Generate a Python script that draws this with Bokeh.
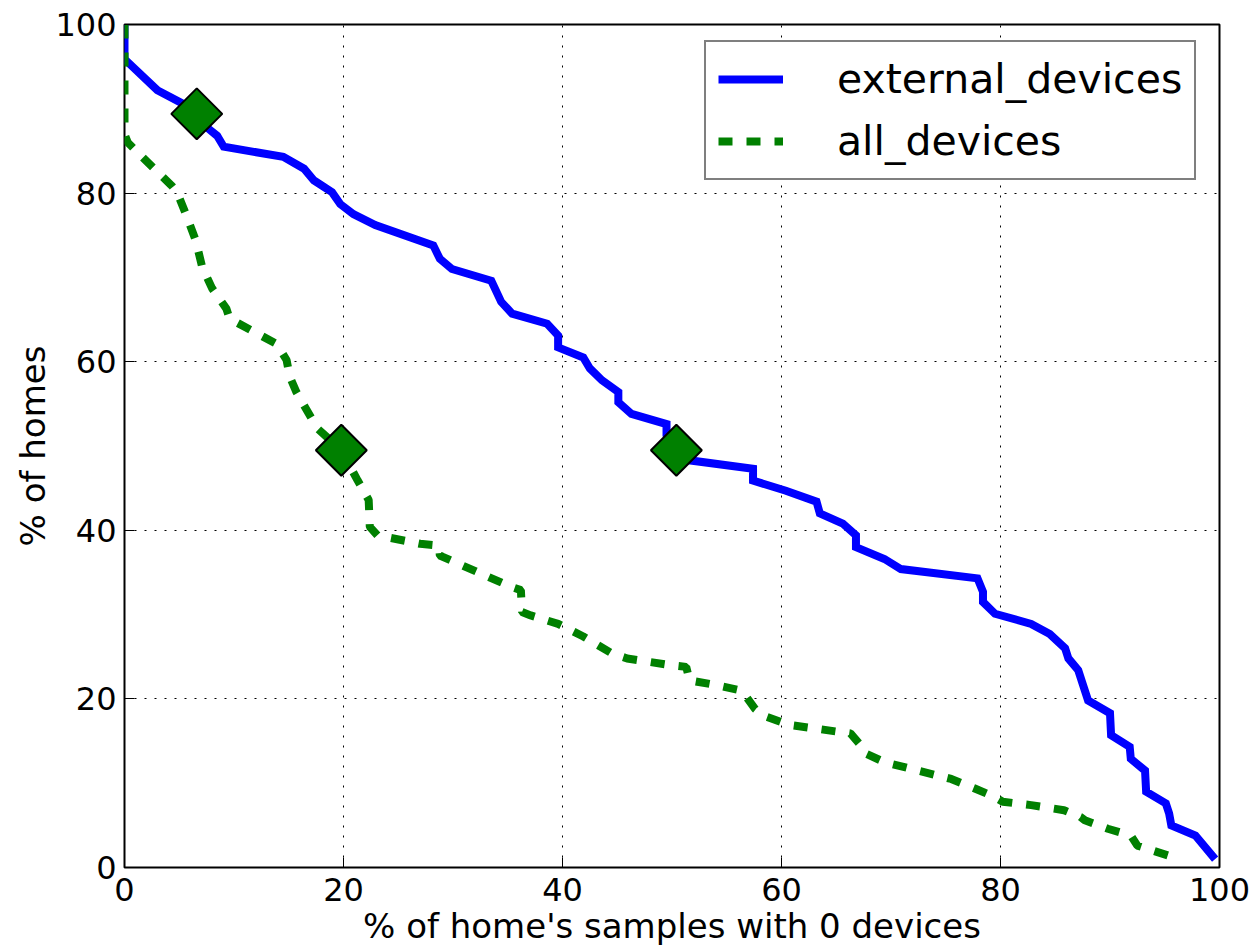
import numpy as np
from bokeh.plotting import figure
from bokeh.models import Range1d, FixedTicker, Legend, LegendItem
from bokeh.embed import file_html
from bokeh.resources import INLINE

# ---- data ----
ext_x = [0, 0, 3.0, 5.2, 6.6, 7.7, 8.46, 9.06, 14.5, 16.4, 17.3, 18.95, 19.7, 20.9, 22.9,
         28.2, 28.8, 29.9, 33.5, 34.4, 35.4, 38.6, 39.6, 39.6, 41.9, 42.5, 43.6, 45.1, 45.1,
         46.3, 49.5, 49.5, 50.4, 51.6, 57.4, 57.4, 60.4, 63.2, 63.5, 65.6, 66.8, 66.8, 69.4,
         70.9, 77.9, 78.4, 78.4, 79.5, 82.8, 84.5, 85.9, 86.2, 87.1, 87.5, 88.0, 90.0, 90.1,
         91.8, 91.9, 93.2, 93.3, 95.1, 95.4, 95.6, 97.8, 99.6]
ext_y = [100, 95.9, 92.2, 90.7, 89.4, 87.6, 86.8, 85.5, 84.3, 82.9, 81.5, 80.1, 78.7, 77.5, 76.2,
         73.8, 72.2, 71.0, 69.6, 67.1, 65.7, 64.5, 63.1, 61.7, 60.5, 59.2, 57.8, 56.4, 55.2,
         53.8, 52.6, 51.3, 49.5, 48.3, 47.3, 45.9, 44.7, 43.4, 42.0, 40.8, 39.4, 38.0, 36.6,
         35.4, 34.3, 32.7, 31.5, 30.1, 28.9, 27.7, 26.0, 24.8, 23.4, 21.8, 19.8, 18.3, 15.7,
         14.3, 12.9, 11.5, 9.0, 7.6, 6.4, 5.0, 3.8, 1.0]

all_x = [0, 0, 0.3, 2.7, 4.3, 4.8, 5.7, 6.5, 7.1, 8.0, 9.3, 9.6, 13.9, 14.8, 15.1, 15.7, 17.6,
         19.8, 21.3, 22.3, 22.4, 23.1, 27.0, 28.7, 28.8, 35.3, 36.2, 36.3, 37.1, 39.6, 41.9,
         44.5, 45.9, 49.9, 51.3, 51.6, 54.2, 56.3, 56.7, 57.6, 58.4, 59.9, 60.8, 66.3, 67.1,
         67.7, 69.4, 75.5, 77.6, 79.4, 80.2, 82.8, 85.8, 87.3, 87.7, 89.8, 91.9, 92.5, 95.6]
all_y = [100, 87.0, 86.0, 82.9, 80.9, 80.1, 77.2, 74.4, 71.2, 68.7, 66.3, 65.1, 62.1, 60.2, 58.2,
         56.4, 52.1, 49.5, 45.9, 43.6, 40.4, 39.4, 38.4, 38.2, 37.0, 33.3, 32.9, 30.3, 29.9,
         28.9, 27.4, 25.4, 24.8, 24.0, 23.8, 22.2, 21.6, 21.0, 20.4, 18.8, 18.0, 17.3, 16.9,
         15.9, 14.7, 13.5, 12.5, 10.5, 9.4, 8.4, 7.8, 7.4, 6.8, 6.0, 5.6, 4.6, 3.8, 2.6, 1.3]

marker_x = [6.6, 19.8, 50.4]
marker_y = [89.4, 49.5, 49.5]

ticks = [0, 20, 40, 60, 80, 100]
series_labels = ["external_devices", "all_devices"]

FONT = "DejaVu Sans"

p = figure(width=1252, height=948, output_backend="svg", toolbar_location=None,
           x_range=Range1d(0, 100), y_range=Range1d(0, 100),
           min_border_left=124, min_border_top=24, min_border_right=33, min_border_bottom=80)

p.outline_line_color = "black"
p.outline_line_width = 2
p.background_fill_color = "white"
p.border_fill_color = "white"

for ax in (p.xaxis[0], p.yaxis[0]):
    ax.ticker = FixedTicker(ticks=ticks)
    ax.major_tick_in = 10
    ax.major_tick_out = 0
    ax.minor_tick_line_color = None
    ax.axis_line_color = None
    ax.major_tick_line_color = "black"
    ax.major_label_text_font = FONT
    ax.major_label_text_font_size = "32px"
    ax.major_label_text_color = "black"
    ax.axis_label_text_font = FONT
    ax.axis_label_text_font_size = "34px"
    ax.axis_label_text_font_style = "normal"
    ax.axis_label_text_color = "black"

p.xaxis.axis_label = "% of home's samples with 0 devices"
p.yaxis.axis_label = "% of homes"
p.xaxis.major_label_standoff = 10
p.yaxis.major_label_standoff = 8
p.xaxis.axis_label_standoff = 2
p.yaxis.axis_label_standoff = -1

for g in (p.xgrid[0], p.ygrid[0]):
    g.ticker = FixedTicker(ticks=ticks)
    g.grid_line_color = "black"
    g.grid_line_width = 1
    g.grid_line_dash = "2 8"

r1 = p.line(ext_x, ext_y, line_color="#0000ff", line_width=8, line_join="miter")
r2 = p.line(all_x, all_y, line_color="#008000", line_width=8, line_dash="14 14")
p.scatter(marker_x, marker_y, marker="square", size=36, angle=np.pi / 4,
          fill_color="#008000", line_color="black", line_width=2)

legend = Legend(items=[LegendItem(label=series_labels[0], renderers=[r1]),
                       LegendItem(label=series_labels[1], renderers=[r2])],
                location=(580, 687))
legend.label_text_font = FONT
legend.label_text_font_size = "41px"
legend.label_text_color = "black"
legend.glyph_width = 65
legend.glyph_height = 50
legend.label_height = 50
legend.label_standoff = 54
legend.spacing = 12
legend.padding = 12
legend.margin = 0
legend.border_line_color = "black"
legend.border_line_width = 2
legend.background_fill_alpha = 1
p.add_layout(legend, "center")

open("out.html", "w").write(file_html(p, INLINE))
